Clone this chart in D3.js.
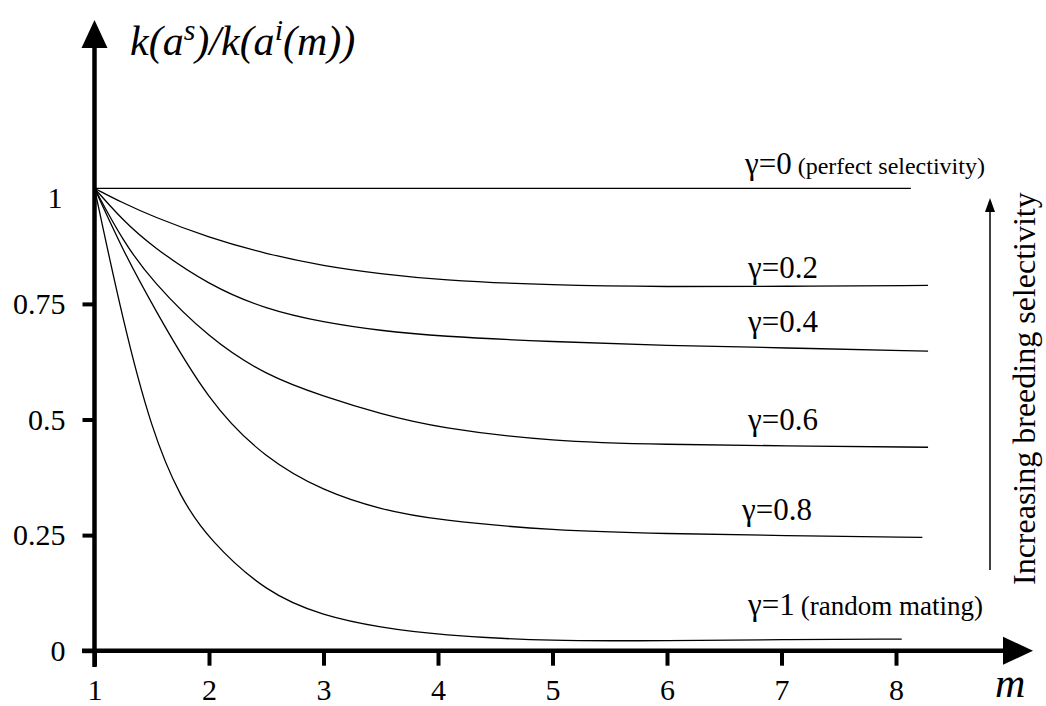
<!DOCTYPE html>
<html>
<head>
<meta charset="utf-8">
<script src="https://cdn.jsdelivr.net/npm/d3@7"></script>
</head>
<body style="margin:0">
<div id="root"></div>
<script>
const width = 1046;
const height = 706;

// data
const mTicks = [1, 2, 3, 4, 5, 6, 7, 8];
const yTicks = [0, 0.25, 0.5, 0.75];
const gammaNames = ["0", "0.2", "0.4", "0.6", "0.8", "1"];
const gammaNotes = ["(perfect selectivity)", "", "", "", "", "(random mating)"];

const m_g0 = [1, 8.13];
const v_g0 = [1, 1];
const m_g02 = [1, 1.25, 1.5, 2, 2.5, 3, 3.5, 4, 5, 6, 7, 8.28];
const v_g02 = [1, 0.968, 0.94, 0.893, 0.858, 0.832, 0.815, 0.802, 0.79, 0.787, 0.788, 0.79];
const m_g04 = [1, 1.25, 1.5, 2, 2.5, 3, 3.5, 4, 5, 6, 7, 8.28];
const v_g04 = [1, 0.93, 0.875, 0.79, 0.738, 0.71, 0.692, 0.68, 0.668, 0.66, 0.655, 0.648];
const m_g06 = [1, 1.25, 1.5, 2, 2.5, 3, 3.5, 4, 5, 6, 7, 8.28];
const v_g06 = [1, 0.885, 0.8, 0.675, 0.595, 0.55, 0.512, 0.482, 0.452, 0.446, 0.443, 0.44];
const m_g08 = [1, 1.25, 1.5, 2, 2.5, 3, 3.5, 4, 5, 6, 7, 8.23];
const v_g08 = [1, 0.865, 0.75, 0.535, 0.414, 0.345, 0.305, 0.282, 0.26, 0.253, 0.249, 0.245];
const m_g1 = [1, 1.25, 1.5, 1.75, 2, 2.5, 3, 3.5, 4, 5, 6, 7, 8.05];
const v_g1 = [1, 0.71, 0.475, 0.33, 0.24, 0.125, 0.075, 0.05, 0.034, 0.02, 0.022, 0.024, 0.025];

const seriesM = [m_g0, m_g02, m_g04, m_g06, m_g08, m_g1];
const seriesV = [v_g0, v_g02, v_g04, v_g06, v_g08, v_g1];

const x = d3.scaleLinear().domain([1, 8]).range([94.5, 896]);
const y = d3.scaleLinear().domain([0, 1]).range([650.7, 188.3]);

const svg = d3.select("#root").append("svg")
  .attr("width", width)
  .attr("height", height);

// curves
const line = d3.line()
  .x((d) => x(d[0]))
  .y((d) => y(d[1]))
  .curve(d3.curveBasis);

seriesM.forEach((ms, i) => {
  const pts = ms.map((m, j) => [m, seriesV[i][j]]);
  svg.append("path")
    .attr("d", line(pts))
    .attr("fill", "none")
    .attr("stroke", "#000")
    .attr("stroke-width", 1.3);
});

// axes
const xAxis = svg.append("g")
  .attr("transform", `translate(0,${y(0)})`)
  .call(d3.axisBottom(x).tickValues(mTicks).tickSize(15).tickSizeOuter(0)
    .tickFormat(d3.format("d")));
xAxis.attr("font-family", null).attr("font-size", null);
xAxis.select(".domain").remove();
xAxis.selectAll(".tick line").attr("stroke-width", 4);
xAxis.selectAll(".tick text")
  .attr("y", 49).attr("dy", 0)
  .attr("font-size", 30);

const yAxis = svg.append("g")
  .attr("transform", `translate(${x(1)},0)`)
  .call(d3.axisLeft(y).tickValues(yTicks).tickSize(12).tickPadding(17).tickSizeOuter(0)
    .tickFormat((d) => String(d)));
yAxis.attr("font-family", null).attr("font-size", null);
yAxis.select(".domain").remove();
yAxis.selectAll(".tick line").attr("stroke-width", 4);
yAxis.selectAll(".tick text")
  .attr("font-size", 30);

// "1" label sits a bit below its line, no tick there
svg.append("text")
  .attr("x", x(1) - 32)
  .attr("y", y(1) + 20)
  .attr("text-anchor", "end")
  .attr("font-size", 30)
  .text("1");

// axis lines with arrows
svg.append("line")
  .attr("x1", 82).attr("x2", 1005)
  .attr("y1", y(0)).attr("y2", y(0))
  .attr("stroke", "#000").attr("stroke-width", 4.5);
svg.append("path")
  .attr("d", `M1003,${y(0) - 14}L1033,${y(0)}L1003,${y(0) + 14}Z`)
  .attr("fill", "#000");

svg.append("line")
  .attr("x1", x(1)).attr("x2", x(1))
  .attr("y1", 667).attr("y2", 46)
  .attr("stroke", "#000").attr("stroke-width", 4.5);
svg.append("path")
  .attr("d", `M${x(1) - 13},48L${x(1)},20L${x(1) + 13},48Z`)
  .attr("fill", "#000");

// y title
const title = svg.append("text")
  .attr("x", 130)
  .attr("y", 55)
  .attr("font-size", 42)
  .attr("font-style", "italic");
title.append("tspan").text("k(a");
title.append("tspan").attr("dy", -15).attr("font-size", 30).text("s");
title.append("tspan").attr("dy", 15).text(")/k(a");
title.append("tspan").attr("dy", -15).attr("font-size", 30).text("i");
title.append("tspan").attr("dy", 15).text("(m))");

// x title
svg.append("text")
  .attr("x", 995)
  .attr("y", 697)
  .attr("font-size", 42)
  .attr("font-style", "italic")
  .text("m");

// curve labels
const labelLift = [14, 7, 19, 17, 17, 24];
gammaNames.forEach((g, i) => {
  const vs = seriesV[i];
  const endV = vs[vs.length - 1];
  const t = svg.append("text")
    .attr("x", i === 0 ? 745 : i === 4 ? 742 : 748)
    .attr("y", y(endV) - labelLift[i])
    .attr("font-size", 31);
  t.append("tspan").text("\u03b3=" + g);
  if (gammaNotes[i]) {
    t.append("tspan").attr("dx", 6)
      .attr("font-size", i === 0 ? 24 : 27)
      .text(gammaNotes[i]);
  }
});

// selectivity arrow
svg.append("line")
  .attr("x1", 990).attr("x2", 990)
  .attr("y1", 570).attr("y2", 208)
  .attr("stroke", "#000").attr("stroke-width", 1.5);
svg.append("path")
  .attr("d", "M985,212L990,198L995,212Z")
  .attr("fill", "#000");

svg.append("text")
  .attr("transform", "translate(1035,585) rotate(-90)")
  .attr("font-size", 32)
  .text("Increasing breeding selectivity");

// serif face, set on each text element on its own
svg.selectAll("text, tspan").style("font-family", '"Liberation Serif"');
</script>
</body>
</html>
